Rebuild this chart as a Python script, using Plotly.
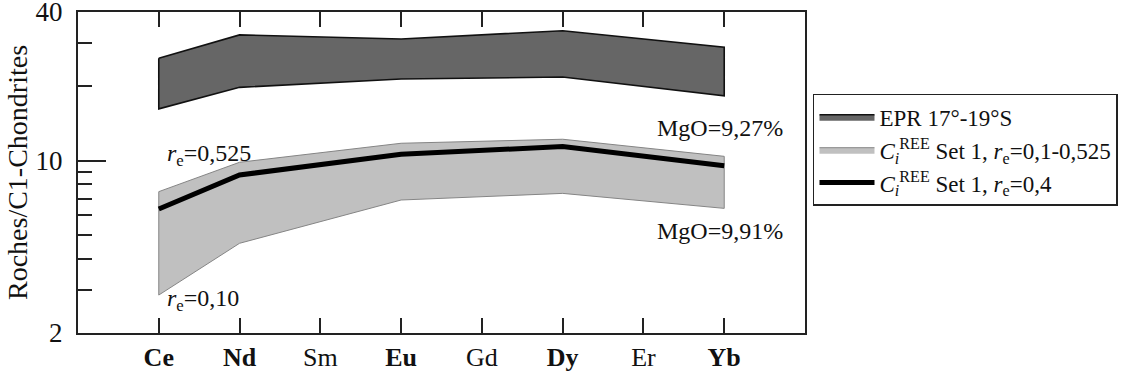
import plotly.graph_objects as go
import math

# ---- data ----
categories = ["Ce", "Nd", "Sm", "Eu", "Gd", "Dy", "Er", "Yb"]
tick_labels = ["<b>Ce</b>", "<b>Nd</b>", "Sm", "<b>Eu</b>", "Gd", "<b>Dy</b>", "Er", "<b>Yb</b>"]
elements = ["Ce", "Nd", "Eu", "Dy", "Yb"]
epr_upper = [26.0, 32.3, 31.1, 33.6, 28.8]
epr_lower = [16.2, 19.8, 21.4, 21.8, 18.3]
set1_upper = [7.48, 9.84, 11.75, 12.2, 10.4]    # r_e = 0,525 (MgO=9,27%)
set1_lower = [2.85, 4.62, 6.92, 7.36, 6.40]     # r_e = 0,10 (MgO=9,91%)
set1_r04 = [6.36, 8.74, 10.6, 11.4, 9.53]       # r_e = 0,4
y_major = [2, 10, 40]
y_minor = [3, 4, 5, 6, 7, 8, 9, 20, 30]

FONT = "Liberation Serif, Times New Roman, serif"


def band(upper, lower):
    xs = elements + elements[::-1] + [elements[0]]
    ys = upper + lower[::-1] + [upper[0]]
    return xs, ys


fig = go.Figure()

x, y = band(epr_upper, epr_lower)
fig.add_trace(go.Scatter(
    x=x, y=y, mode="lines", fill="toself", fillcolor="#666666",
    line=dict(color="#111111", width=1.6), name="EPR 17°-19°S", hoverinfo="skip"))

x, y = band(set1_upper, set1_lower)
fig.add_trace(go.Scatter(
    x=x, y=y, mode="lines", fill="toself", fillcolor="#c0c0c0",
    line=dict(color="#858585", width=1), hoverinfo="skip",
    name="<i>C</i><sub><i>i</i></sub><sup>REE</sup> Set 1, <i>r</i><sub>e</sub>=0,1-0,525"))

fig.add_trace(go.Scatter(
    x=elements, y=set1_r04, mode="lines", line=dict(color="#000000", width=5),
    hoverinfo="skip",
    name="<i>C</i><sub><i>i</i></sub><sup>REE</sup> Set 1, <i>r</i><sub>e</sub>=0,4"))

ann_font = dict(family=FONT, size=24, color="#111111")
fig.add_annotation(x=0.08, y=math.log10(10.5), text="<i>r</i><sub>e</sub>=0,525",
                   showarrow=False, xanchor="left", yanchor="middle", font=ann_font)
fig.add_annotation(x=0.08, y=math.log10(2.72), text="<i>r</i><sub>e</sub>=0,10",
                   showarrow=False, xanchor="left", yanchor="middle", font=ann_font)
fig.add_annotation(x=7.75, y=math.log10(13.6), text="MgO=9,27%",
                   showarrow=False, xanchor="right", yanchor="middle", font=ann_font)
fig.add_annotation(x=7.75, y=math.log10(5.2), text="MgO=9,91%",
                   showarrow=False, xanchor="right", yanchor="middle", font=ann_font)

fig.update_xaxes(
    type="category", categoryorder="array", categoryarray=categories,
    tickvals=categories, ticktext=tick_labels, range=[-1, 8],
    ticks="inside", ticklen=15, tickwidth=1.5, tickcolor="#222222",
    showline=True, linecolor="#222222", linewidth=2, mirror="ticks",
    showgrid=False, zeroline=False, ticklabelstandoff=0, automargin=False,
    tickfont=dict(family=FONT, size=26, color="#111111"))

fig.update_yaxes(
    type="log", range=[math.log10(2), math.log10(40)],
    tickvals=y_major, ticktext=[str(v) for v in y_major],
    ticks="inside", ticklen=28, tickwidth=1.5, tickcolor="#222222",
    minor=dict(tickvals=y_minor, ticks="inside", ticklen=14, tickwidth=1.5,
               tickcolor="#222222", showgrid=False),
    showline=True, linecolor="#222222", linewidth=2, mirror=True,
    showgrid=False, zeroline=False, ticklabelstandoff=8, automargin=False,
    ticklabeloverflow="allow",
    tickfont=dict(family=FONT, size=27, color="#111111"),
    title=dict(text="Roches/C1-Chondrites", standoff=0,
               font=dict(family=FONT, size=28, color="#111111")))

fig.update_layout(
    width=1143, height=381,
    margin=dict(l=78, r=338, t=12, b=48),
    paper_bgcolor="white", plot_bgcolor="white",
    showlegend=True,
    legend=dict(x=1.011, y=0.745, xanchor="left", yanchor="top",
                bordercolor="#222222", borderwidth=1.5, bgcolor="white",
                font=dict(family=FONT, size=23, color="#111111"),
                itemwidth=55, tracegroupgap=0, traceorder="normal"),
)

# remove the browser's default 8px body margin so the figure sits at the page origin
fig.write_html("out.html", config={"displayModeBar": False},
               post_script="document.body.style.margin='0';")
